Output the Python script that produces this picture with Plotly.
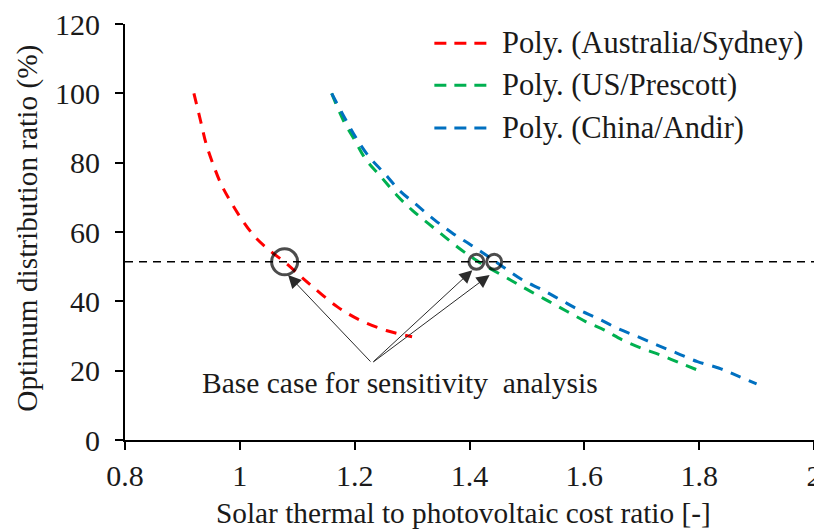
import plotly.graph_objects as go

# ---------------- data ----------------
series_names = ["Poly. (Australia/Sydney)", "Poly. (US/Prescott)", "Poly. (China/Andir)"]
series_colors = ["#FF0000", "#00B050", "#0070C0"]

red_x = [0.92, 0.932, 0.941, 0.954, 0.968, 0.986, 1.006, 1.029, 1.055, 1.081, 1.104, 1.127, 1.17, 1.209, 1.255, 1.30]
red_y = [100, 91.8, 85.6, 79.3, 73.6, 68.2, 63.0, 58.1, 54.3, 50.9, 47.5, 44.2, 38.4, 34.6, 31.6, 29.8]

green_x = [1.16, 1.18, 1.2, 1.22, 1.246, 1.273, 1.3, 1.328, 1.357, 1.386, 1.414, 1.472, 1.507, 1.539,
           1.571, 1.603, 1.635, 1.667, 1.701, 1.733, 1.768, 1.80]
green_y = [100, 92.3, 86.5, 80.8, 75.9, 70.7, 66.3, 62.5, 58.6, 54.8, 51.6, 46.1, 42.8, 39.9,
           37.0, 34.1, 31.7, 28.8, 26.4, 24.5, 22.1, 20.0]

blue_x = [1.16, 1.183, 1.203, 1.225, 1.252, 1.278, 1.308, 1.339, 1.371, 1.403, 1.432, 1.458, 1.493,
          1.527, 1.559, 1.591, 1.623, 1.658, 1.693, 1.727, 1.762, 1.797, 1.835, 1.864, 1.90]
blue_y = [100, 92.8, 87.0, 81.7, 76.9, 72.0, 67.8, 63.5, 59.6, 56.2, 53.0, 50.0, 46.1,
          43.3, 40.4, 37.5, 35.1, 32.2, 29.8, 27.4, 25.0, 22.6, 20.7, 18.7, 16.2]

base_ratio = 51.4               # horizontal reference line (%)
base_x_range = [0.8, 2.0]
base_case_x = [1.078, 1.412, 1.443]   # base-case points on the curves
base_case_size = [26, 15, 15]

arrow_tail = (1.23, 22.2)
arrow_heads_x = [1.084, 1.405, 1.435]
arrow_heads_y = [47.6, 49.0, 47.6]
arrow_label = "Base case for sensitivity\u00a0 analysis"
label_pos = (0.930, 16.3)

x_ticks = [0.8, 1, 1.2, 1.4, 1.6, 1.8, 2]
x_tick_text = ["0.8", "1", "1.2", "1.4", "1.6", "1.8", "2"]
y_ticks = [0, 20, 40, 60, 80, 100, 120]

x_title = "Solar thermal to photovoltaic cost ratio [-]"
y_title = "Optimum distribution ratio (%)"

FONT = "Liberation Serif, Times New Roman, serif"
TXT = "#1a1a1a"

# ---------------- figure ----------------
fig = go.Figure()

curves = [(red_x, red_y), (green_x, green_y), (blue_x, blue_y)]
for (xs, ys), name, col in zip(curves, series_names, series_colors):
    fig.add_trace(go.Scatter(x=xs, y=ys, mode="lines", name=name, showlegend=False,
                             line=dict(color=col, width=3, dash="11px,9px", shape="spline",
                                       smoothing=1.0)))

fig.add_trace(go.Scatter(x=base_x_range, y=[base_ratio, base_ratio], mode="lines", showlegend=False,
                         line=dict(color="black", width=1.5, dash="8px,6px")))

fig.add_trace(go.Scatter(x=base_case_x, y=[base_ratio] * len(base_case_x), mode="markers",
                         showlegend=False,
                         marker=dict(symbol="circle-open", size=base_case_size, color="black",
                                     line=dict(width=3, color="black"))))

# arrows
for hx, hy in zip(arrow_heads_x, arrow_heads_y):
    fig.add_annotation(x=hx, y=hy, ax=arrow_tail[0], ay=arrow_tail[1], xref="x", yref="y",
                       axref="x", ayref="y", text="", showarrow=True, arrowhead=2,
                       arrowsize=2.6, arrowwidth=1, arrowcolor="#2a2a2a", standoff=0)

fig.add_annotation(x=label_pos[0], y=label_pos[1], xref="x", yref="y", text=arrow_label,
                   showarrow=False, xanchor="left", yanchor="middle",
                   font=dict(family=FONT, size=29.5, color=TXT))

# manual legend
leg_y = [0.954, 0.853, 0.750]
for name, col, ly in zip(series_names, series_colors, leg_y):
    fig.add_shape(type="line", xref="paper", yref="paper", x0=0.449, x1=0.534, y0=ly, y1=ly,
                  line=dict(color=col, width=3, dash="12px,8px"))
    fig.add_annotation(x=0.544, y=ly, xref="paper", yref="paper", text=name, showarrow=False,
                       xanchor="left", yanchor="middle",
                       font=dict(family=FONT, size=30.5, color=TXT))

# axis titles
fig.add_annotation(x=0.492, y=-0.175, xref="paper", yref="paper", text=x_title, showarrow=False,
                   xanchor="center", yanchor="middle", font=dict(family=FONT, size=29.3, color=TXT))
fig.add_annotation(x=-0.141, y=0.51, xref="paper", yref="paper", text=y_title, showarrow=False,
                   textangle=-90, xanchor="center", yanchor="middle",
                   font=dict(family=FONT, size=29.3, color=TXT))

# the page body has an 8px margin, so the figure is sized/offset to compensate
fig.update_layout(
    width=814, height=522,
    margin=dict(l=117, r=8, t=16, b=90),
    paper_bgcolor="white", plot_bgcolor="white",
    font=dict(family=FONT, size=30, color=TXT),
    xaxis=dict(range=[0.8, 2.0], tickvals=x_ticks, ticktext=x_tick_text, showgrid=False,
               zeroline=False, showline=True, linecolor="black", linewidth=2,
               ticks="outside", ticklen=8, tickwidth=2, tickcolor="black",
               ticklabelstandoff=0, ticklabeloverflow="allow", automargin=False,
               tickfont=dict(family=FONT, size=30, color=TXT)),
    yaxis=dict(range=[0, 120], tickvals=y_ticks, showgrid=False, zeroline=False,
               showline=True, linecolor="black", linewidth=2, ticks="outside", ticklen=8,
               tickwidth=2, tickcolor="black", ticklabelstandoff=9, ticklabeloverflow="allow",
               automargin=False, tickfont=dict(family=FONT, size=30, color=TXT)),
)

fig.write_html("out.html")
